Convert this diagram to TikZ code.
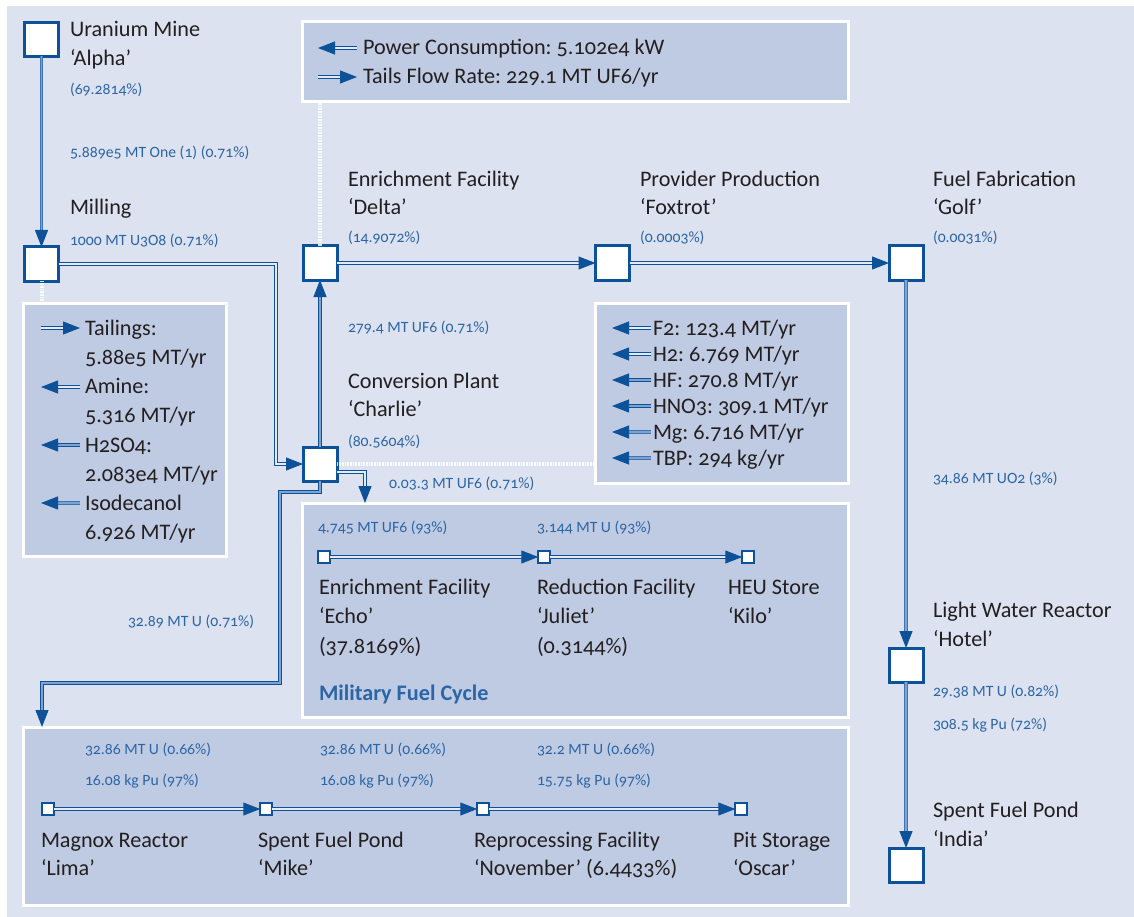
\documentclass[tikz,border=0pt]{standalone}
\usepackage{fontspec}
\setmainfont{Carlito}[Numbers=OldStyle]
\usetikzlibrary{arrows.meta,calc}
\definecolor{bgc}{HTML}{DCE2F0}
\definecolor{boxc}{HTML}{BFCAE3}
\definecolor{dkb}{HTML}{0D5298}
\definecolor{tb}{HTML}{2B65A5}
\definecolor{tk}{HTML}{231F20}
\definecolor{midb}{HTML}{3F74B4}
\definecolor{midin}{HTML}{7FA2CF}
\definecolor{lightin}{HTML}{E6EAF5}
\frenchspacing
\begin{document}
\begin{tikzpicture}[x=1pt,y=-1pt,
  every node/.style={inner sep=0pt,outer sep=0pt},
  bignode/.style={draw=dkb,fill=white,line width=3pt,minimum size=34pt},
  smallnode/.style={draw=dkb,fill=white,line width=2.2pt,minimum size=11.5pt},
  panel/.style={fill=boxc,draw=white,line width=3pt,anchor=north west},
  nm/.style={anchor=base west,text=tk,font=\fontsize{22.2}{25}\selectfont},
  fl/.style={anchor=base west,text=tb,font=\fontsize{15.7}{19}\selectfont},
  lgA/.style={draw=dkb,line width=1pt,double=lightin,double distance=1.4pt},
  lgB/.style={draw=dkb,line width=1pt,double=midin,double distance=1.6pt},
  lgC/.style={draw=midb,line width=1.1pt,double=midin,double distance=1.6pt},
  tipA/.style={-{Triangle[length=17pt,width=13pt,color=dkb,fill=dkb]}},
  dots/.style={draw=white,line width=4pt,dash pattern=on 0.8pt off 0.8pt,opacity=0.85}
]
\useasboundingbox (0,0) rectangle (1134,917);
\fill[bgc] (7,6) rectangle (1134,917);

% panels
\node[panel,minimum width=546pt,minimum height=80pt] (powerbox) at (302,22) {};
\node[panel,minimum width=203pt,minimum height=253pt] (tailbox) at (23,303) {};
\node[panel,minimum width=253pt,minimum height=180pt] (chembox) at (595,303) {};
\node[panel,minimum width=546pt,minimum height=214pt] (milbox) at (302,503) {};
\node[panel,minimum width=825pt,minimum height=178pt] (botbox) at (23,727) {};

% main nodes
\node[bignode] (alpha) at (41.5,39.5) {};
\node[bignode] (milling) at (41.5,264) {};
\node[bignode] (delta) at (320,263) {};
\node[bignode] (foxtrot) at (612.5,263) {};
\node[bignode] (golf) at (906,263) {};
\node[bignode] (charlie) at (320,464) {};
\node[bignode] (hotel) at (906,665) {};
\node[bignode] (india) at (906,865) {};

\node[smallnode] (echo) at (324,557) {};
\node[smallnode] (juliet) at (544,557) {};
\node[smallnode] (kilo) at (748,557) {};
\node[smallnode] (lima) at (48,809) {};
\node[smallnode] (mike) at (266,809) {};
\node[smallnode] (nov) at (483,809) {};
\node[smallnode] (oscar) at (741,809) {};

% dotted links to legends
\draw[dots] (milling.south) -- (milling.south |- tailbox.north);
\draw[dots] (delta.north) -- (delta.north |- powerbox.south);
\draw[dots] (charlie.east) -- (charlie.east -| chembox.west);

% connectors
\coordinate (mc) at (276,264);
\coordinate (milin) at (365,503);
\coordinate (c1) at (320,492);
\coordinate (c2) at (280,492);
\coordinate (c3) at (280,683);
\coordinate (c4) at (42,683);
\coordinate (botin) at (42,727);
\draw[lgC,tipA] (alpha.south) -- (milling.north);
\draw[lgA,tipA] (milling.east) -- (milling.east -| mc) |- (charlie.west);
\draw[lgB,tipA] (charlie.north) -- (delta.south);
\draw[lgA,tipA] (delta.east) -- (foxtrot.west);
\draw[lgA,tipA] (foxtrot.east) -- (golf.west);
\draw[lgC,tipA] (golf.south) -- (hotel.north);
\draw[lgC,tipA] (hotel.south) -- (india.north);
\draw[lgA,tipA] ([yshift=-8pt]charlie.east) -| (milin);
\draw[lgB,tipA] (charlie.south) -- (c1) -- (c2) -- (c3) -- (c4) -- (botin);
\draw[lgA,tipA] (echo.east) -- (juliet.west);
\draw[lgA,tipA] (juliet.east) -- (kilo.west);
\draw[lgA,tipA] (lima.east) -- (mike.west);
\draw[lgA,tipA] (mike.east) -- (nov.west);
\draw[lgA,tipA] (nov.east) -- (oscar.west);

% main labels
\node[nm] (alphaN) at (70,37) {Uranium Mine};
\node[nm] (alphaQ) at (70,66) {‘Alpha’};
\node[fl] (alphaP) at (70,95) {(69.2814\%)};
\node[fl] (fA) at (70,158) {5.889e5 MT One (1) (0.71\%)};
\node[nm] (millN) at (70,215) {Milling};
\node[fl] (fB) at (70,245) {1000 MT U3O8 (0.71\%)};

\node[nm] (deltaN) at (348,187) {Enrichment Facility};
\node[nm] (deltaQ) at (348,215) {‘Delta’};
\node[fl] (deltaP) at (348,243) {(14.9072\%)};
\node[nm] (foxN) at (640,187) {Provider Production};
\node[nm] (foxQ) at (640,215) {‘Foxtrot’};
\node[fl] (foxP) at (640,243) {(0.0003\%)};
\node[nm] (golfN) at (933,187) {Fuel Fabrication};
\node[nm] (golfQ) at (933,215) {‘Golf’};
\node[fl] (golfP) at (933,243) {(0.0031\%)};

\node[fl] (fC) at (348,332) {279.4 MT UF6 (0.71\%)};
\node[nm] (charN) at (348,388) {Conversion Plant};
\node[nm] (charQ) at (348,416) {‘Charlie’};
\node[fl] (charP) at (348,446) {(80.5604\%)};
\node[fl] (fD) at (389,488) {0.03.3 MT UF6 (0.71\%)};
\node[fl] (fE) at (128,626) {32.89 MT U (0.71\%)};
\node[fl] (fF) at (933,483) {34.86 MT UO2 (3\%)};

\node[nm] (hotN) at (933,617) {Light Water Reactor};
\node[nm] (hotQ) at (933,646) {‘Hotel’};
\node[fl] (fG) at (933,696) {29.38 MT U (0.82\%)};
\node[fl] (fH) at (933,729) {308.5 kg Pu (72\%)};
\node[nm] (indN) at (933,817) {Spent Fuel Pond};
\node[nm] (indQ) at (933,846) {‘India’};

% power legend
\draw[lgA,tipA] (357,48) -- (318,48);
\draw[lgA,tipA] (318,77) -- (357,77);
\node[nm] (lgP1) at (363,55) {Power Consumption: 5.102e4 kW};
\node[nm] (lgP2) at (363,84) {Tails Flow Rate: 229.1 MT UF6/yr};

% tailings legend
\draw[lgA,tipA] (41,328) -- (80,328);
\draw[lgA,tipA] (80,387) -- (41,387);
\draw[lgB,tipA] (80,445) -- (41,445);
\draw[lgC,tipA] (80,503) -- (41,503);
\node[nm] (lgT1) at (85,335) {Tailings:};
\node[nm] (lgT2) at (85,364) {5.88e5 MT/yr};
\node[nm] (lgT3) at (85,393) {Amine:};
\node[nm] (lgT4) at (85,422) {5.316 MT/yr};
\node[nm] (lgT5) at (85,452) {H2SO4:};
\node[nm] (lgT6) at (85,481) {2.083e4 MT/yr};
\node[nm] (lgT7) at (85,510) {Isodecanol};
\node[nm] (lgT8) at (85,539) {6.926 MT/yr};

% chemicals legend
\draw[lgA,tipA] (651,328) -- (612,328);
\draw[lgA,tipA] (651,354) -- (612,354);
\draw[lgB,tipA] (651,380) -- (612,380);
\draw[lgB,tipA] (651,406) -- (612,406);
\draw[lgC,tipA] (651,432) -- (612,432);
\draw[lgC,tipA] (651,458) -- (612,458);
\node[nm] (lgC1) at (653,335) {F2: 123.4 MT/yr};
\node[nm] (lgC2) at (653,361) {H2: 6.769 MT/yr};
\node[nm] (lgC3) at (653,387) {HF: 270.8 MT/yr};
\node[nm] (lgC4) at (653,413) {HNO3: 309.1 MT/yr};
\node[nm] (lgC5) at (653,439) {Mg: 6.716 MT/yr};
\node[nm] (lgC6) at (653,465) {TBP: 294 kg/yr};

% military fuel cycle
\node[fl] (mA) at (318,532) {4.745 MT UF6 (93\%)};
\node[fl] (mB) at (537,532) {3.144 MT U (93\%)};
\node[nm] (echoN) at (319,594) {Enrichment Facility};
\node[nm] (echoQ) at (319,623) {‘Echo’};
\node[nm] (echoP) at (319,653) {(37.8169\%)};
\node[nm] (julN) at (537,594) {Reduction Facility};
\node[nm] (julQ) at (537,623) {‘Juliet’};
\node[nm] (julP) at (537,653) {(0.3144\%)};
\node[nm] (kiloN) at (728,594) {HEU Store};
\node[nm] (kiloQ) at (728,623) {‘Kilo’};
\node[anchor=base west,text=tb,font=\fontsize{22.2}{25}\selectfont\bfseries] (milT) at (319,700) {Military Fuel Cycle};

% bottom cycle
\node[fl] (bA1) at (85,754) {32.86 MT U (0.66\%)};
\node[fl] (bA2) at (85,785) {16.08 kg Pu (97\%)};
\node[fl] (bB1) at (320,754) {32.86 MT U (0.66\%)};
\node[fl] (bB2) at (320,785) {16.08 kg Pu (97\%)};
\node[fl] (bC1) at (537,754) {32.2 MT U (0.66\%)};
\node[fl] (bC2) at (537,785) {15.75 kg Pu (97\%)};
\node[nm] (limaN) at (41,847) {Magnox Reactor};
\node[nm] (limaQ) at (41,875) {‘Lima’};
\node[nm] (mikeN) at (258,847) {Spent Fuel Pond};
\node[nm] (mikeQ) at (258,875) {‘Mike’};
\node[nm] (novN) at (474,847) {Reprocessing Facility};
\node[nm] (novQ) at (474,875) {‘November’ (6.4433\%)};
\node[nm] (oscN) at (733,847) {Pit Storage};
\node[nm] (oscQ) at (733,875) {‘Oscar’};
\end{tikzpicture}
\end{document}
